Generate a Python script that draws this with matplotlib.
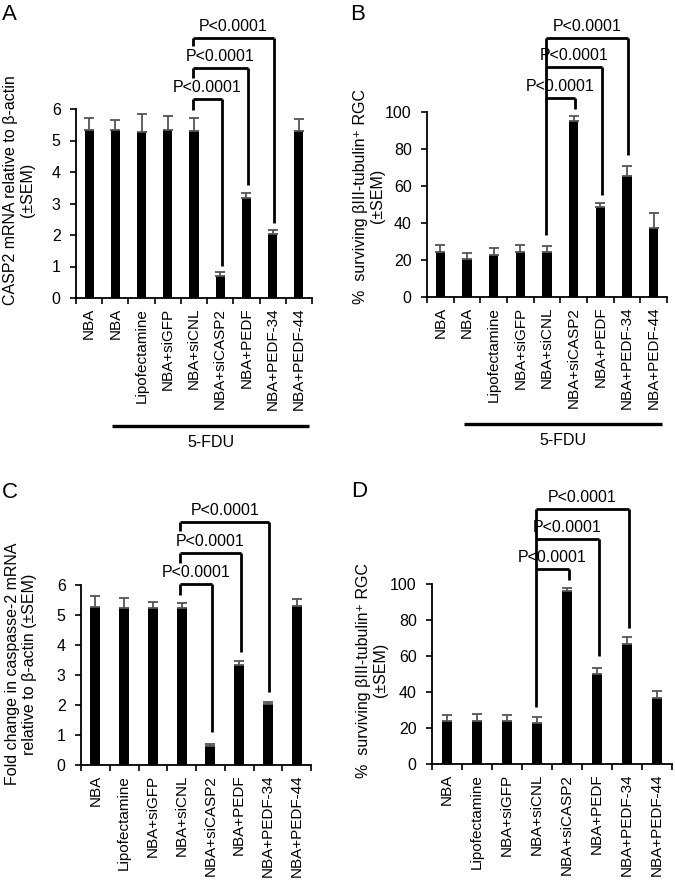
import matplotlib
matplotlib.use("Agg")
import matplotlib.pyplot as plt
import matplotlib.transforms as mtransforms

plt.rcParams["font.family"] = ["Liberation Sans", "DejaVu Sans"]
plt.rcParams["axes.unicode_minus"] = False

# ---- data -------------------------------------------------------------
labels_ab = ["NBA", "NBA", "Lipofectamine", "NBA+siGFP", "NBA+siCNL",
             "NBA+siCASP2", "NBA+PEDF", "NBA+PEDF-34", "NBA+PEDF-44"]
labels_cd = ["NBA", "Lipofectamine", "NBA+siGFP", "NBA+siCNL",
             "NBA+siCASP2", "NBA+PEDF", "NBA+PEDF-34", "NBA+PEDF-44"]

casp2_a = [5.33, 5.33, 5.26, 5.33, 5.30, 0.70, 3.16, 2.03, 5.30]
sem_a = [0.39, 0.32, 0.57, 0.45, 0.42, 0.14, 0.16, 0.13, 0.37]

rgc_b = [24.5, 20.5, 22.7, 24.5, 24.5, 95.3, 48.8, 65.6, 37.1]
sem_b = [3.5, 3.5, 3.9, 3.5, 3.3, 2.5, 2.2, 5.2, 8.5]

casp2_c = [5.28, 5.22, 5.22, 5.22, 0.64, 3.33, 2.02, 5.31]
sem_c = [0.35, 0.36, 0.20, 0.19, 0.06, 0.15, 0.09, 0.22]

rgc_d = [23.9, 23.9, 23.9, 23.0, 96.1, 49.8, 66.7, 36.9]
sem_d = [3.3, 3.9, 3.1, 3.3, 1.9, 3.7, 3.7, 3.7]

pval = "P<0.0001"

W, H = 675, 885
FS = 11.5
fig = plt.figure(figsize=(W / 100, H / 100), dpi=100)


def add_ax(left, top, right, bottom):
    # pixel box -> figure fraction
    return fig.add_axes([left / W, 1 - bottom / H, (right - left) / W, (bottom - top) / H])


def bar_panel(ax, labels, vals, errs, ymax, ystep):
    n = len(vals)
    x = list(range(n))
    ax.bar(x, vals, width=0.35, color="black", zorder=2)
    ax.errorbar(x, vals, yerr=[[0] * n, errs], fmt="none", ecolor="#555555",
                elinewidth=1.3, capsize=3.5, capthick=1.3, zorder=3)
    ax.set_xlim(-0.5, n - 0.5)
    ax.set_ylim(0, ymax)
    ax.set_yticks([ystep * k for k in range(int(round(ymax / ystep)) + 1)])
    ax.set_xticks(x)
    ax.set_xticklabels(labels, rotation=90, fontsize=11)
    ax.set_xticks([k - 0.5 for k in range(n + 1)], minor=True)
    ax.tick_params(axis="x", which="major", length=0, pad=7)
    ax.tick_params(axis="x", which="minor", length=4.5, width=1.2, direction="out")
    ax.tick_params(axis="y", length=4, width=1.2, pad=7, labelsize=FS)
    for s in ("top", "right"):
        ax.spines[s].set_visible(False)
    for s in ("left", "bottom"):
        ax.spines[s].set_linewidth(1.3)


def brackets(ax, specs, left_idx, long_left=None):
    # specs: (right index, bar level, left leg end, right leg end)
    kw = dict(color="black", lw=2.0, clip_on=False, solid_capstyle="butt", zorder=4)
    for right_idx, level, lend, rend in specs:
        xl = left_idx - 0.05
        xr = right_idx + 0.05
        ax.plot([xl, xr], [level, level], **kw)
        if lend is not None:
            ax.plot([xl, xl], [level, lend], **kw)
        ax.plot([xr, xr], [level, rend], **kw)
        ax.annotate(pval, ((xl + xr) / 2, level), xytext=(0, 3),
                    textcoords="offset points", ha="center", va="bottom",
                    fontsize=FS, annotation_clip=False)
    if long_left is not None:
        top, bottom = long_left
        ax.plot([left_idx - 0.05] * 2, [top, bottom], **kw)


def fdu_line(ax, x0, x1, yax):
    tr = mtransforms.blended_transform_factory(ax.transData, ax.transAxes)
    ax.plot([x0, x1], [yax, yax], transform=tr, color="black", lw=2.4,
            clip_on=False, solid_capstyle="butt")
    ax.text((x0 + x1) / 2, yax - 0.05, "5-FDU", transform=tr, ha="center",
            va="top", fontsize=FS)


def ylabel_at(ax, text, right_px, center_px, box):
    # place the label block by its right edge / vertical centre, in pixels
    left, top, right, bottom = box
    ax.set_ylabel(text, fontsize=FS, linespacing=1.15)
    ax.yaxis.set_label_coords((right_px - left) / (right - left),
                              (bottom - center_px) / (bottom - top))


# ---- A ----
boxA = (76, 109, 312, 298)
axA = add_ax(*boxA)
bar_panel(axA, labels_ab, casp2_a, sem_a, 6, 1)
brackets(axA, [(5, 6.32, 5.97, 1.02), (6, 7.3, 7.0, 3.6), (7, 8.25, 8.0, 2.38)], 4)
fdu_line(axA, 0.88, 8.4, -0.676)
ylabel_at(axA, "CASP2 mRNA relative to β-actin\n(±SEM)", 35, 190, boxA)

# ---- B ----
boxB = (427, 112, 667, 297)
axB = add_ax(*boxB)
bar_panel(axB, labels_ab, rgc_b, sem_b, 100, 20)
brackets(axB, [(5, 107.4, None, 101.5), (6, 124.5, None, 55), (7, 140, None, 76.8)],
         4, long_left=(140, 33.5))
fdu_line(axB, 0.88, 8.3, -0.686)
ylabel_at(axB, "%  surviving βIII-tubulin\u207a RGC\n(±SEM)", 385, 196, boxB)

# ---- C ----
boxC = (81, 585, 311, 765)
axC = add_ax(*boxC)
bar_panel(axC, labels_cd, casp2_c, sem_c, 6, 1)
brackets(axC, [(4, 6.02, 5.67, 1.11), (5, 7.06, 6.73, 3.78), (6, 8.11, 7.8, 2.44)], 3)
ylabel_at(axC, "Fold change in caspasse-2 mRNA\nrelative to β-actin (±SEM)", 37, 664, boxC)

# ---- D ----
boxD = (432, 584, 672, 764)
axD = add_ax(*boxD)
bar_panel(axD, labels_cd, rgc_d, sem_d, 100, 20)
brackets(axD, [(4, 108.3, None, 102), (5, 125, None, 60), (6, 141.5, None, 75.7)],
         3, long_left=(141.5, 31.9))
ylabel_at(axD, "%  surviving βIII-tubulin\u207a RGC\n(±SEM)", 388, 670, boxD)

# panel letters
for letter, px, py in [("A", 2, 4), ("B", 350, 4), ("C", 2, 482), ("D", 351, 481)]:
    fig.text(px / W, 1 - py / H, letter, fontsize=16, va="top", ha="left")

fig.savefig("out.png", dpi=100)
